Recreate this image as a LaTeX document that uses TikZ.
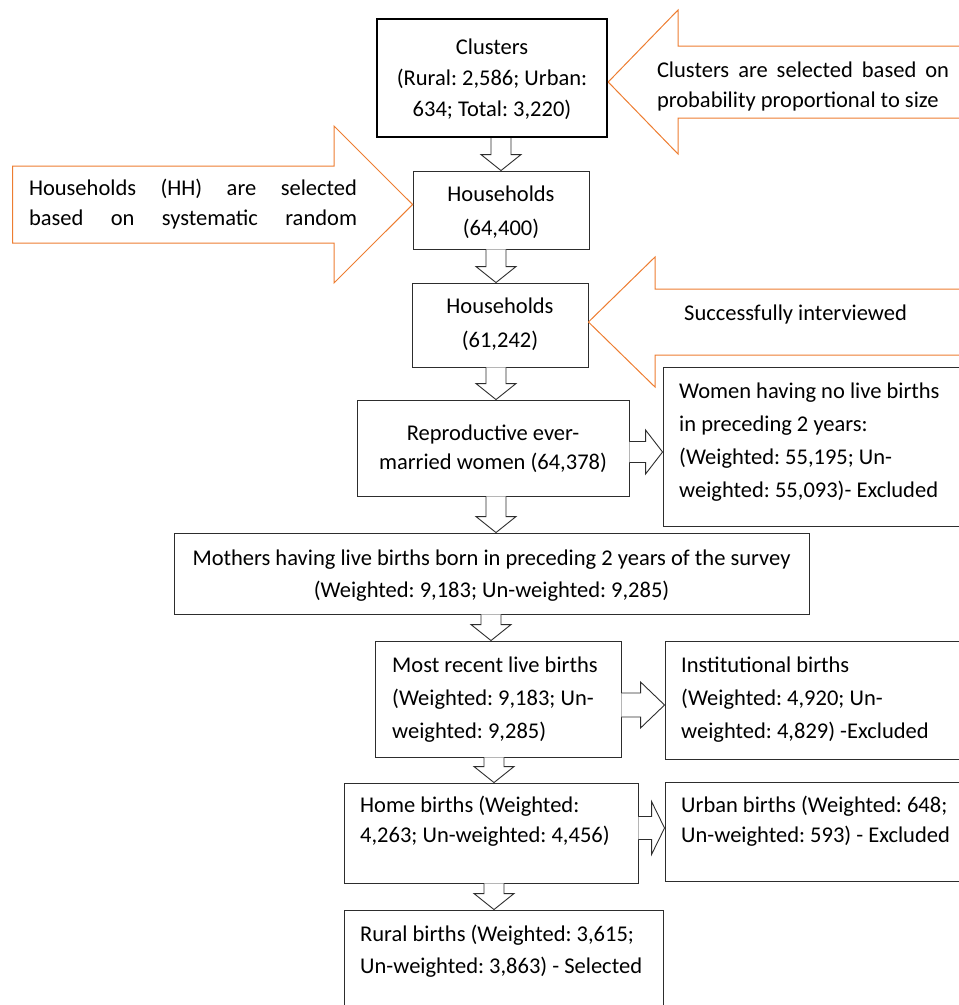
\documentclass[tikz,border=0pt]{standalone}
\usepackage{fontspec}
\setmainfont{Carlito}
\usetikzlibrary{calc}
\frenchspacing
\definecolor{orng}{RGB}{237,125,49}
\definecolor{bxline}{RGB}{45,45,45}
\tikzset{
  box/.style={draw=bxline, line width=0.9pt, inner sep=0pt},
  thickbox/.style={draw=black, line width=2.4pt, inner sep=0pt},
  txt/.style={inner sep=0pt, text=black, font=\fontsize{22.5}{#1}\selectfont\frenchspacing},
  txt/.default=31,
  blk/.style={draw=bxline, fill=white, line width=0.9pt, line join=miter},
  callout/.style={draw=orng, line width=1pt, line join=miter}
}
\newcommand{\dnarr}[3]{%
  \draw[blk] let \p1=(#2.south), \p2=(#3.north) in
    ({#1-10},\y1) -- ({#1-10},{\y2+16}) -- ({#1-20},{\y2+16}) -- (#1,\y2)
    -- ({#1+20},{\y2+16}) -- ({#1+10},{\y2+16}) -- ({#1+10},\y1);}
% y-centre, from, to, head length, half shaft, half head
\newcommand{\rtarr}[6]{%
  \draw[blk] let \p1=(#2.east), \p2=(#3.west) in
    (\x1,{#1+#5}) -- ({\x2-#4},{#1+#5}) -- ({\x2-#4},{#1+#6}) -- (\x2,#1)
    -- ({\x2-#4},{#1-#6}) -- ({\x2-#4},{#1-#5}) -- (\x1,{#1-#5});}
\begin{document}
\begin{tikzpicture}[x=1pt,y=1pt]
\useasboundingbox (0,0) rectangle (959,-1005);
\clip (0,0) rectangle (959,-1005);

% boxes
\node[thickbox, minimum width=230, minimum height=118] (c1) at (492,-78) {};
\node[box, minimum width=176, minimum height=78] (h1) at (501,-210) {};
\node[box, minimum width=176, minimum height=84] (h2) at (500,-325) {};
\node[box, minimum width=272, minimum height=96] (rw) at (493,-448) {};
\node[box, minimum width=307, minimum height=159] (wn) at (816.5,-446.5) {};
\node[box, minimum width=635, minimum height=81] (mo) at (491.5,-573.5) {};
\node[box, minimum width=246, minimum height=116] (mr) at (498,-699) {};
\node[box, minimum width=305, minimum height=118] (ib) at (817.5,-700) {};
\node[box, minimum width=294, minimum height=100] (hb) at (491,-833) {};
\node[box, minimum width=305, minimum height=99] (ub) at (817.5,-831.5) {};
\node[box, minimum width=319, minimum height=105] (rb) at (503.5,-962.5) {};

% texts
\node[txt=31, align=center] (c1t) at (492,-79) {Clusters\\(Rural: 2,586; Urban:\\634; Total: 3,220)};
\node[txt=34, align=center] (h1t) at (501,-212) {Households\\(64,400)};
\node[txt=34, align=center] (h2t) at (500,-324) {Households\\(61,242)};
\node[txt=29, align=center] (rwt) at (493,-449) {Reproductive ever-\\married women (64,378)};
\node[txt=33, align=left, anchor=west] (wnt) at (679,-442) {Women having no live births\\in preceding 2 years:\\(Weighted: 55,195; Un-\\weighted: 55,093)- Excluded};
\node[txt=32, align=center] (mot) at (491.5,-575.5) {Mothers having live births born in preceding 2 years of the survey\\(Weighted: 9,183; Un-weighted: 9,285)};
\node[txt=33, align=left, anchor=west] (mrt) at (392,-700) {Most recent live births\\(Weighted: 9,183; Un-\\weighted: 9,285)};
\node[txt=33, align=left, anchor=west] (ibt) at (681,-700) {Institutional births\\(Weighted: 4,920; Un-\\weighted: 4,829) -Excluded};
\node[txt=30, align=left, anchor=west] (hbt) at (360,-821) {Home births (Weighted:\\4,263; Un-weighted: 4,456)};
\node[txt=30, align=left, anchor=west] (ubt) at (681,-821) {Urban births (Weighted: 648;\\Un-weighted: 593) - Excluded};
\node[txt=32, align=left, anchor=west] (rbt) at (360,-951) {Rural births (Weighted: 3,615;\\Un-weighted: 3,863) - Selected};

% down block arrows
\dnarr{501}{c1}{h1}
\dnarr{496}{h1}{h2}
\dnarr{496}{h2}{rw}
\dnarr{496}{rw}{mo}
\dnarr{491}{mo}{mr}
\dnarr{494}{mr}{hb}
\dnarr{494}{hb}{rb}

% right block arrows
\rtarr{-452}{rw}{wn}{17}{10.5}{22}
\rtarr{-705}{mr}{ib}{24}{12}{23}
\rtarr{-828}{hb}{ub}{13}{11.5}{26.5}

% orange callout arrows
\coordinate (o1tip) at (c1.east |- 0,-82);
\draw[callout] (o1tip) -- (678,-10) -- (678,-46) -- (975,-46)
  (975,-118) -- (678,-118) -- (678,-154) -- (o1tip);
\node[txt=30, align=left] (o1t) at (803,-86) {\makebox[292pt][s]{Clusters are selected based on}\\probability proportional to size};

\coordinate (o2tip) at (h1.west |- 0,-204.5);
\draw[callout] (o2tip) -- (334,-126) -- (334,-166) -- (12.5,-166) -- (12.5,-243)
  -- (334,-243) -- (334,-283) -- cycle;
\node[txt=30, align=left] (o2t) at (193,-204) {\makebox[328pt][s]{Households (HH) are selected}\\\makebox[328pt][s]{based on systematic random}};

\coordinate (o3tip) at (h2.east |- 0,-322);
\draw[callout] (o3tip) -- (655,-257) -- (655,-289) -- (975,-289)
  (975,-355) -- (655,-355) -- (655,-387) -- (o3tip);
\node[txt=30, anchor=west] (o3t) at (684,-314) {Successfully interviewed};
\end{tikzpicture}
\end{document}
